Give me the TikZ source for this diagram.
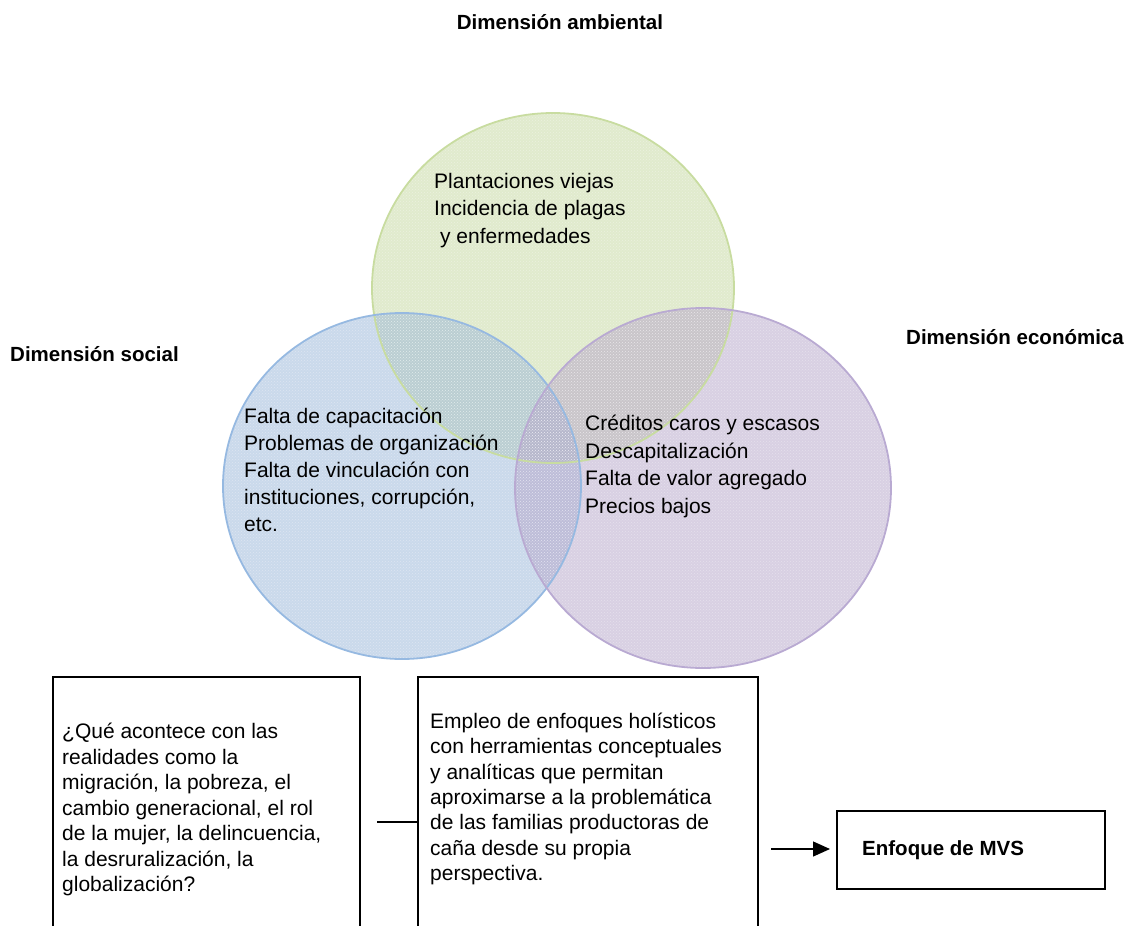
\documentclass[tikz,border=0pt]{standalone}
\usepackage{fontspec}
\setmainfont{Liberation Sans}
\usetikzlibrary{arrows.meta,patterns}
\definecolor{gfill}{RGB}{194,214,155}
\definecolor{bfill}{RGB}{149,179,215}
\definecolor{pfill}{RGB}{178,161,199}
\definecolor{gline}{RGB}{200,220,160}
\definecolor{bline}{RGB}{150,185,225}
\definecolor{pline}{RGB}{185,170,210}
\begin{document}
\begin{tikzpicture}[x=1pt,y=-1pt,
  txt/.style={inner sep=0pt,align=left,anchor=north west,font=\fontsize{21}{27}\selectfont},
  boxtxt/.style={inner sep=0pt,align=left,anchor=north west,font=\fontsize{21}{25.5}\selectfont},
  title/.style={inner sep=0pt,anchor=base west,font=\fontsize{20.5}{24}\selectfont\bfseries},
  frame/.style={draw,line width=1.6pt,inner sep=0pt,anchor=north west},
  dotpat/.style={pattern=crosshatch dots,pattern color=white,opacity=0.35}]
\useasboundingbox (0,0) rectangle (1136,926);
% circles
\fill[gfill,fill opacity=0.5] (553,288) ellipse [x radius=181pt, y radius=175pt];
\fill[bfill,fill opacity=0.5] (402,486) ellipse [x radius=179pt, y radius=173pt];
\fill[pfill,fill opacity=0.5] (703,488) ellipse [x radius=188pt, y radius=180pt];
\fill[dotpat] (553,288) ellipse [x radius=181pt, y radius=175pt];
\fill[dotpat] (402,486) ellipse [x radius=179pt, y radius=173pt];
\fill[dotpat] (703,488) ellipse [x radius=188pt, y radius=180pt];
\draw[gline,line width=1.8pt] (553,288) ellipse [x radius=181pt, y radius=175pt];
\draw[bline,line width=1.8pt] (402,486) ellipse [x radius=179pt, y radius=173pt];
\draw[pline,line width=1.8pt] (703,488) ellipse [x radius=188pt, y radius=180pt];
% titles
\node[title,anchor=base] (tamb) at (560,29.5) {Dimensión ambiental};
\node[title] (tsoc) at (10,361.5) {Dimensión social};
\node[title] (teco) at (906,344.5) {Dimensión económica};
% circle texts
\node[txt,font=\fontsize{21}{27.5}\selectfont] (gtext) at (434,173) {Plantaciones viejas\\Incidencia de plagas\\\hspace*{0.28em}y enfermedades};
\node[txt] (btext) at (244,408) {Falta de capacitación\\Problemas de organización\\Falta de vinculación con\\instituciones, corrupción,\\etc.};
\node[txt,font=\fontsize{21}{27.5}\selectfont] (ptext) at (585,415) {Créditos caros y escasos\\Descapitalización\\Falta de valor agregado\\Precios bajos};
% boxes
\node[frame,minimum width=307pt,minimum height=280pt] (box1) at (52,676) {};
\node[frame,minimum width=340pt,minimum height=280pt] (box2) at (417,676) {};
\node[frame,minimum width=268pt,minimum height=78pt] (box3) at (836,810) {};
\node[boxtxt] (b1text) at (62,723) {¿Qué acontece con las\\realidades como la\\migración, la pobreza, el\\cambio generacional, el rol\\de la mujer, la delincuencia,\\la desruralización, la\\globalización?};
\node[boxtxt,font=\fontsize{21}{25.3}\selectfont] (b2text) at (430,713) {Empleo de enfoques holísticos\\con herramientas conceptuales\\y analíticas que permitan\\aproximarse a la problemática\\de las familias productoras de\\caña desde su propia\\perspectiva.};
\node[title] (b3text) at (862,855.5) {Enfoque de MVS};
% connectors
\coordinate (l0) at (377,822);
\draw[line width=1.3pt] (l0) -- (l0 -| box2.west);
\coordinate (a0) at (771,849);
\draw[line width=1.3pt,-{Triangle[length=17pt,width=15pt]},shorten >=6pt] (a0) -- (a0 -| box3.west);
\end{tikzpicture}
\end{document}
